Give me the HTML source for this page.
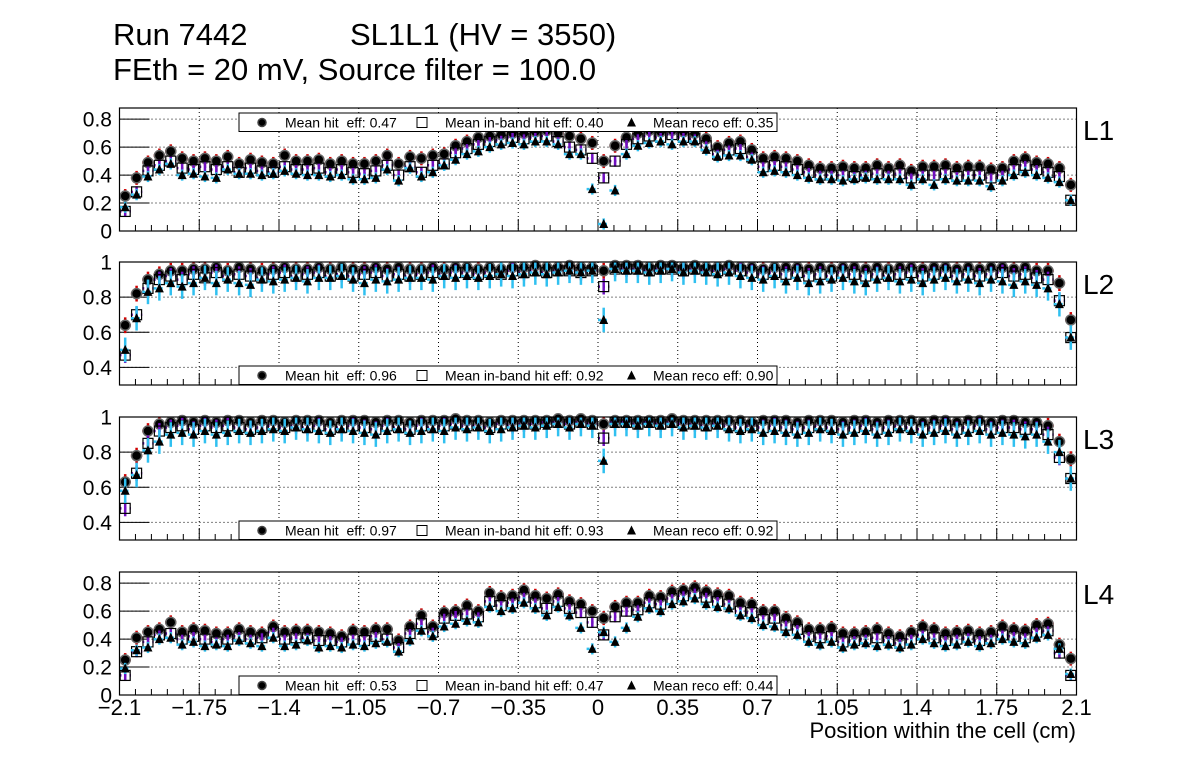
<!DOCTYPE html>
<html><head><meta charset="utf-8"><style>
html,body{margin:0;padding:0;background:#fff;}
svg{display:block;font-family:"Liberation Sans",Arial,sans-serif;}
</style></head><body>
<svg id="c" width="1196" height="772" viewBox="0 0 1196 772">
<text x="113" y="45" font-size="31">Run 7442</text>
<text x="350" y="45" font-size="31">SL1L1 (HV = 3550)</text>
<text x="113" y="80" font-size="31">FEth = 20 mV, Source filter = 100.0</text>
<text x="1076" y="738" font-size="22" text-anchor="end">Position within the cell (cm)</text>
</svg>
<script>
const xTicks=[-2.1,-1.75,-1.4,-1.05,-0.7,-0.35,0,0.35,0.7,1.05,1.4,1.75,2.1];
const xTickLabels=["\u22122.1","\u22121.75","\u22121.4","\u22121.05","\u22120.7","\u22120.35","0","0.35","0.7","1.05","1.4","1.75","2.1"];
const layerNames=["L1","L2","L3","L4"];
const meanHit=["0.47","0.96","0.97","0.53"];
const meanInband=["0.40","0.92","0.93","0.47"];
const meanReco=["0.35","0.90","0.92","0.44"];
const hit1=[0.25,0.38,0.49,0.54,0.57,0.52,0.50,0.52,0.50,0.53,0.48,0.51,0.49,0.48,0.54,0.50,0.50,0.51,0.48,0.50,0.48,0.48,0.50,0.54,0.48,0.53,0.52,0.54,0.55,0.61,0.64,0.67,0.68,0.69,0.70,0.70,0.71,0.72,0.70,0.68,0.66,0.63,0.50,0.61,0.67,0.70,0.72,0.71,0.72,0.71,0.70,0.66,0.60,0.63,0.64,0.58,0.52,0.53,0.52,0.50,0.47,0.45,0.45,0.46,0.45,0.45,0.47,0.45,0.47,0.43,0.46,0.46,0.47,0.45,0.46,0.46,0.44,0.45,0.50,0.52,0.49,0.48,0.45,0.33];
const inb1=[0.14,0.28,0.43,0.47,0.50,0.45,0.44,0.46,0.44,0.46,0.42,0.45,0.43,0.42,0.46,0.44,0.44,0.45,0.42,0.44,0.42,0.41,0.43,0.47,0.40,0.46,0.42,0.47,0.48,0.56,0.59,0.62,0.64,0.65,0.67,0.66,0.67,0.68,0.64,0.60,0.58,0.52,0.38,0.50,0.62,0.66,0.68,0.67,0.69,0.67,0.66,0.61,0.55,0.58,0.59,0.53,0.46,0.47,0.46,0.44,0.42,0.40,0.40,0.40,0.39,0.40,0.41,0.40,0.41,0.38,0.40,0.40,0.41,0.39,0.40,0.40,0.38,0.40,0.44,0.47,0.44,0.42,0.39,0.22];
const rec1=[0.17,0.26,0.39,0.44,0.48,0.40,0.41,0.39,0.38,0.44,0.41,0.41,0.40,0.41,0.43,0.41,0.40,0.40,0.39,0.40,0.37,0.37,0.38,0.44,0.36,0.45,0.39,0.42,0.47,0.51,0.55,0.57,0.60,0.62,0.63,0.62,0.64,0.64,0.62,0.55,0.55,0.30,0.05,0.29,0.55,0.61,0.63,0.64,0.62,0.64,0.64,0.58,0.53,0.54,0.54,0.51,0.42,0.43,0.42,0.40,0.38,0.37,0.37,0.36,0.37,0.38,0.37,0.37,0.37,0.33,0.37,0.33,0.37,0.36,0.36,0.36,0.32,0.36,0.40,0.42,0.40,0.38,0.35,0.22];
const hit2=[0.64,0.82,0.90,0.93,0.95,0.95,0.96,0.96,0.97,0.95,0.97,0.96,0.95,0.96,0.97,0.96,0.96,0.97,0.96,0.97,0.96,0.96,0.97,0.96,0.97,0.96,0.96,0.97,0.96,0.97,0.97,0.96,0.97,0.96,0.97,0.97,0.98,0.97,0.97,0.98,0.97,0.97,0.95,0.98,0.98,0.98,0.97,0.98,0.98,0.97,0.98,0.97,0.97,0.98,0.97,0.97,0.96,0.97,0.97,0.97,0.96,0.97,0.96,0.97,0.97,0.96,0.97,0.96,0.97,0.97,0.96,0.97,0.97,0.96,0.97,0.96,0.97,0.97,0.96,0.97,0.95,0.95,0.88,0.67];
const inb2=[0.47,0.70,0.85,0.90,0.92,0.90,0.93,0.91,0.94,0.92,0.93,0.92,0.91,0.93,0.94,0.92,0.93,0.94,0.92,0.93,0.92,0.93,0.94,0.92,0.93,0.92,0.93,0.94,0.93,0.94,0.94,0.93,0.94,0.93,0.95,0.94,0.95,0.94,0.95,0.95,0.94,0.95,0.86,0.96,0.96,0.96,0.95,0.96,0.96,0.95,0.96,0.95,0.95,0.96,0.95,0.94,0.93,0.94,0.93,0.94,0.92,0.93,0.92,0.94,0.93,0.92,0.93,0.92,0.93,0.94,0.92,0.93,0.94,0.92,0.93,0.92,0.93,0.94,0.92,0.93,0.91,0.90,0.78,0.57];
const rec2=[0.50,0.68,0.83,0.85,0.88,0.86,0.88,0.91,0.88,0.90,0.88,0.87,0.90,0.89,0.90,0.91,0.89,0.91,0.91,0.92,0.90,0.88,0.90,0.89,0.90,0.91,0.91,0.90,0.92,0.91,0.92,0.91,0.92,0.93,0.92,0.93,0.94,0.93,0.94,0.95,0.94,0.95,0.67,0.96,0.95,0.95,0.94,0.95,0.96,0.94,0.95,0.94,0.93,0.94,0.92,0.91,0.90,0.92,0.89,0.91,0.88,0.89,0.90,0.91,0.89,0.88,0.90,0.91,0.89,0.90,0.88,0.90,0.91,0.89,0.90,0.88,0.90,0.89,0.87,0.89,0.87,0.85,0.76,0.57];
const hit3=[0.63,0.78,0.92,0.96,0.97,0.98,0.97,0.98,0.97,0.98,0.98,0.97,0.98,0.98,0.97,0.98,0.98,0.98,0.97,0.98,0.98,0.98,0.97,0.98,0.98,0.97,0.98,0.98,0.98,0.99,0.98,0.98,0.97,0.98,0.98,0.98,0.98,0.98,0.99,0.98,0.99,0.98,0.96,0.98,0.98,0.98,0.98,0.98,0.99,0.98,0.98,0.98,0.98,0.98,0.98,0.97,0.98,0.98,0.98,0.97,0.98,0.98,0.98,0.97,0.98,0.98,0.97,0.98,0.98,0.98,0.97,0.98,0.98,0.97,0.98,0.98,0.97,0.98,0.98,0.97,0.97,0.95,0.86,0.76];
const inb3=[0.48,0.68,0.85,0.92,0.94,0.95,0.93,0.95,0.94,0.95,0.94,0.93,0.94,0.95,0.94,0.95,0.94,0.95,0.93,0.94,0.95,0.94,0.93,0.95,0.94,0.93,0.95,0.94,0.95,0.96,0.95,0.95,0.94,0.96,0.95,0.96,0.96,0.97,0.97,0.96,0.97,0.96,0.88,0.97,0.97,0.96,0.97,0.96,0.97,0.96,0.96,0.95,0.96,0.95,0.94,0.95,0.94,0.95,0.94,0.93,0.94,0.95,0.94,0.93,0.94,0.95,0.93,0.94,0.95,0.94,0.93,0.94,0.95,0.93,0.94,0.95,0.93,0.94,0.94,0.93,0.93,0.90,0.77,0.65];
const rec3=[0.58,0.67,0.81,0.86,0.90,0.91,0.90,0.92,0.90,0.91,0.92,0.91,0.92,0.93,0.92,0.94,0.93,0.92,0.91,0.93,0.92,0.91,0.90,0.92,0.93,0.91,0.92,0.93,0.92,0.94,0.93,0.94,0.92,0.93,0.94,0.95,0.94,0.95,0.96,0.94,0.96,0.95,0.75,0.96,0.96,0.95,0.96,0.95,0.96,0.94,0.95,0.94,0.95,0.93,0.92,0.93,0.91,0.92,0.91,0.90,0.91,0.93,0.92,0.90,0.91,0.92,0.90,0.91,0.93,0.92,0.90,0.91,0.92,0.90,0.91,0.92,0.90,0.91,0.90,0.89,0.90,0.86,0.80,0.65];
const hit4=[0.25,0.41,0.45,0.47,0.52,0.45,0.47,0.46,0.44,0.44,0.47,0.45,0.44,0.49,0.45,0.46,0.46,0.45,0.44,0.42,0.46,0.45,0.47,0.47,0.39,0.49,0.57,0.49,0.59,0.60,0.64,0.60,0.73,0.70,0.71,0.75,0.71,0.69,0.72,0.67,0.65,0.60,0.55,0.63,0.66,0.66,0.71,0.70,0.74,0.75,0.77,0.74,0.72,0.71,0.66,0.65,0.60,0.60,0.55,0.52,0.47,0.47,0.48,0.44,0.44,0.45,0.47,0.44,0.42,0.45,0.49,0.47,0.44,0.45,0.46,0.44,0.45,0.49,0.47,0.46,0.50,0.51,0.36,0.26];
const inb4=[0.14,0.31,0.38,0.43,0.44,0.40,0.42,0.40,0.38,0.40,0.42,0.40,0.41,0.45,0.40,0.41,0.41,0.39,0.39,0.38,0.40,0.39,0.42,0.40,0.34,0.44,0.51,0.45,0.55,0.57,0.58,0.56,0.67,0.64,0.66,0.70,0.66,0.62,0.67,0.62,0.59,0.52,0.43,0.56,0.60,0.61,0.66,0.65,0.69,0.71,0.73,0.70,0.67,0.65,0.60,0.59,0.54,0.55,0.50,0.47,0.42,0.41,0.42,0.38,0.39,0.40,0.41,0.39,0.37,0.40,0.43,0.41,0.39,0.40,0.41,0.39,0.40,0.43,0.42,0.41,0.45,0.46,0.30,0.14];
const rec4=[0.19,0.32,0.34,0.40,0.41,0.36,0.38,0.35,0.36,0.35,0.39,0.37,0.35,0.41,0.35,0.36,0.39,0.34,0.35,0.34,0.36,0.35,0.37,0.38,0.31,0.39,0.46,0.42,0.49,0.51,0.53,0.52,0.63,0.60,0.62,0.66,0.62,0.57,0.63,0.57,0.48,0.33,0.45,0.38,0.48,0.56,0.62,0.60,0.65,0.67,0.69,0.65,0.63,0.62,0.57,0.55,0.50,0.49,0.45,0.43,0.38,0.36,0.38,0.34,0.36,0.37,0.35,0.36,0.34,0.36,0.40,0.37,0.35,0.36,0.38,0.35,0.37,0.40,0.38,0.37,0.41,0.43,0.33,0.15];

const NS="http://www.w3.org/2000/svg";
const svg=document.getElementById('c');
const L=119.5,R=1076.5,X0=-2.1,X1=2.1;
function sx(v){return L+(v-X0)/(X1-X0)*(R-L);}
function mk(tag,attrs,parent){const e=document.createElementNS(NS,tag);for(const k in attrs)e.setAttribute(k,attrs[k]);(parent||svg).appendChild(e);return e;}

const panels=[
 {top:108,ymin:0,ymax:0.88,yt:[0,0.2,0.4,0.6,0.8],ytl:["0","0.2","0.4","0.6","0.8"],legTop:true,h:hit1,b:inb1,r:rec1,eh:0.05,eb:0.04,er:0.04},
 {top:262,ymin:0.3,ymax:1.0,yt:[0.4,0.6,0.8,1],ytl:["0.4","0.6","0.8","1"],legTop:false,h:hit2,b:inb2,r:rec2,eh:0.045,eb:0.045,er:0.07},
 {top:417,ymin:0.3,ymax:1.0,yt:[0.4,0.6,0.8,1],ytl:["0.4","0.6","0.8","1"],legTop:false,h:hit3,b:inb3,r:rec3,eh:0.045,eb:0.045,er:0.07},
 {top:572,ymin:0,ymax:0.88,yt:[0,0.2,0.4,0.6,0.8],ytl:["0","0.2","0.4","0.6","0.8"],legTop:false,h:hit4,b:inb4,r:rec4,eh:0.05,eb:0.04,er:0.04}
];
const H=123;
panels.forEach((p,pi)=>{
 const g=mk('g',{});
 
 
 const sy=v=>p.top+H-(v-p.ymin)/(p.ymax-p.ymin)*H;
 xTicks.forEach(t=>{ if(t>X0&&t<X1){const l=mk('line',{x1:sx(t),x2:sx(t),y1:p.top,y2:p.top+H,stroke:'#000','stroke-width':1,'stroke-dasharray':'1,3'},g);
  }});
 p.yt.forEach(t=>{ if(t>p.ymin&&t<p.ymax){const l=mk('line',{x1:L,x2:R,y1:sy(t),y2:sy(t),stroke:'#000','stroke-width':1,'stroke-dasharray':'1,3'},g);
  }});
 p.yt.forEach((t,k)=>{
  mk('line',{x1:L,x2:L+30,y1:sy(t),y2:sy(t),stroke:'#000','stroke-width':1},g);
  const tx=mk('text',{x:112,y:sy(t)+7.5,'font-size':21,'text-anchor':'end'},g);tx.textContent=p.ytl[k];
  
 });
 for(let v=-2.1;v<=2.1001;v+=0.07){const major=Math.abs(v/0.35-Math.round(v/0.35))<0.01;
  mk('line',{x1:sx(v),x2:sx(v),y1:p.top+H,y2:p.top+H-(major?12:6),stroke:'#000','stroke-width':1},g);}
 const hw=(R-L)/84/2;
 const xs=i=>sx(-2.075+0.05*i);
 p.h.forEach((v,i)=>{const x=xs(i);
  mk('line',{x1:x,x2:x,y1:sy(Math.min(v+p.eh,p.ymax)),y2:sy(v-p.eh),stroke:'#d00000','stroke-width':2.5},g);
  mk('line',{x1:x-hw,x2:x+hw,y1:sy(v),y2:sy(v),stroke:'#d00000','stroke-width':2.5},g);});
 p.h.forEach((v,i)=>{const c=mk('circle',{cx:xs(i),cy:sy(v),r:5,fill:'#000',stroke:'#666','stroke-width':1.5},g);
  });
 p.b.forEach((v,i)=>{const x=xs(i);
  mk('line',{x1:x,x2:x,y1:sy(Math.min(v+p.eb,p.ymax)),y2:sy(v-p.eb),stroke:'#7010c0','stroke-width':2.5},g);
  mk('line',{x1:x-hw,x2:x+hw,y1:sy(v),y2:sy(v),stroke:'#7010c0','stroke-width':2.5,'stroke-dasharray':'2,3'},g);});
 p.b.forEach((v,i)=>{const s=mk('rect',{x:xs(i)-5,y:sy(v)-5,width:10,height:10,fill:'none',stroke:'#000','stroke-width':1.2},g);
  });
 p.r.forEach((v,i)=>{const x=xs(i);
  mk('line',{x1:x,x2:x,y1:sy(Math.min(v+p.er,p.ymax)),y2:sy(v-p.er),stroke:'#30c0f0','stroke-width':2.5},g);
  mk('line',{x1:x-hw,x2:x+hw,y1:sy(v),y2:sy(v),stroke:'#30c0f0','stroke-width':2.5,'stroke-dasharray':'3,3'},g);});
 p.r.forEach((v,i)=>{const x=xs(i),y=sy(v);const t=mk('polygon',{points:`${x-4.5},${y+4} ${x+4.5},${y+4} ${x},${y-5}`,fill:'#000'},g);
  });
 mk('rect',{x:L,y:p.top,width:R-L,height:H,fill:'none',stroke:'#000','stroke-width':1.2},g);
 const ly=p.legTop?113:p.top+H-19;
 const lg=mk('g',{},g);
 
 mk('rect',{x:239,y:ly,width:538,height:18.5,fill:'#fff',stroke:'#000','stroke-width':1},lg);
 const cy=ly+9.5;
 mk('circle',{cx:262,cy:cy,r:4,fill:'#000',stroke:'#444','stroke-width':1.5},lg);
 let t1=mk('text',{x:285,y:cy+5,'font-size':14},lg);t1.textContent='Mean hit\u00a0 eff: '+meanHit[pi];
 
 mk('rect',{x:417,y:cy-5,width:10,height:10,fill:'none',stroke:'#000','stroke-width':1},lg);
 let t2=mk('text',{x:445,y:cy+5,'font-size':14},lg);t2.textContent='Mean in-band hit eff: '+meanInband[pi];
 
 mk('polygon',{points:`${627},${cy+4} ${636},${cy+4} ${631.5},${cy-5}`,fill:'#000'},lg);
 let t3=mk('text',{x:653,y:cy+5,'font-size':14},lg);t3.textContent='Mean reco eff: '+meanReco[pi];
 
 const ll=mk('text',{x:1083,y:p.top+32,'font-size':28},g);ll.textContent=layerNames[pi];
 
});
xTicks.forEach((t,k)=>{const tx=mk('text',{x:sx(t),y:715,'font-size':22,'text-anchor':'middle'});tx.textContent=xTickLabels[k];
 });
</script>
</body></html>
